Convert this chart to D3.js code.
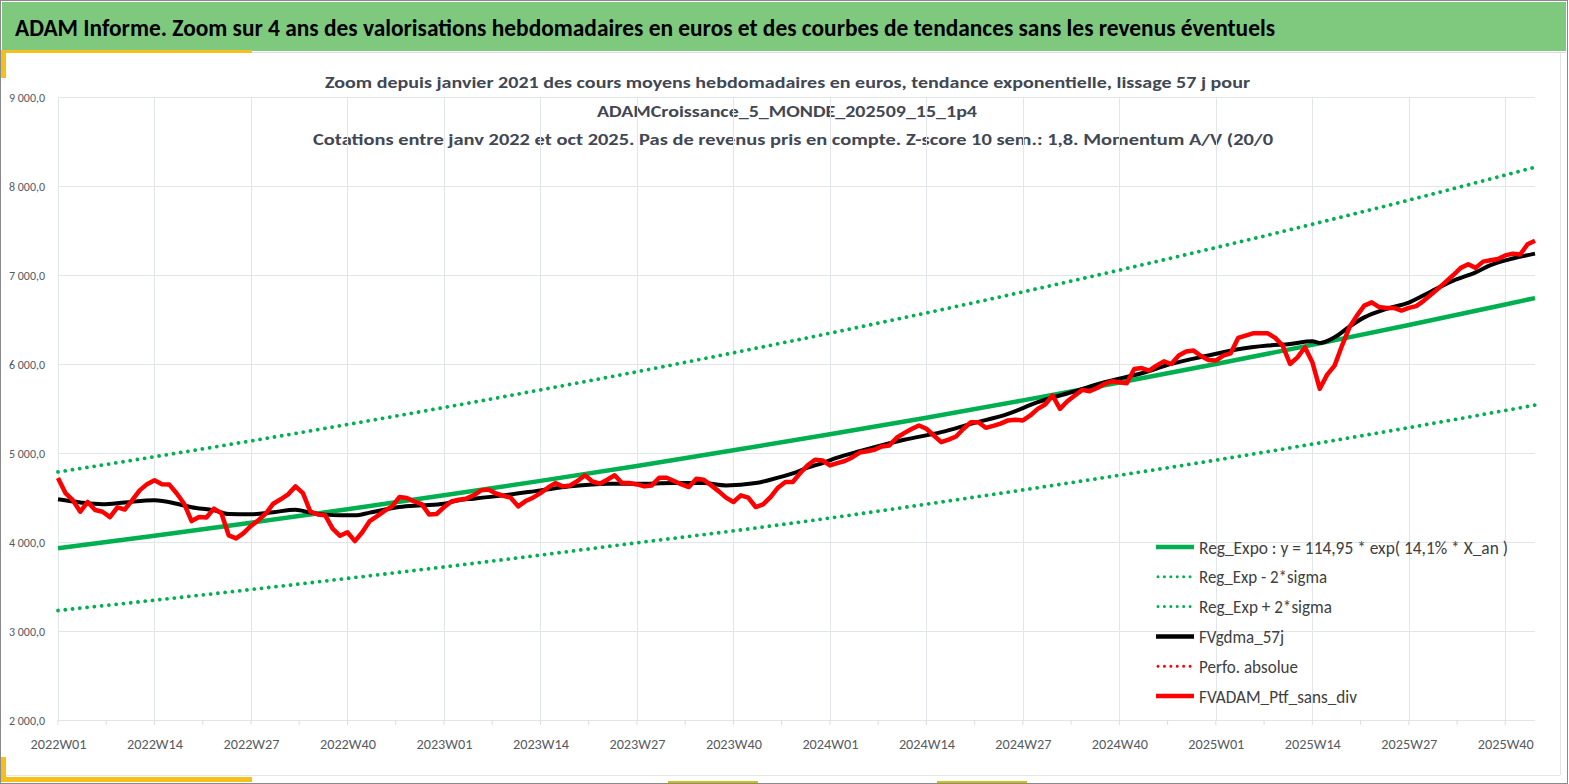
<!DOCTYPE html>
<meta charset="utf-8">
<style>
  body { margin: 0; background: #fff; }
  text { font-family: Carlito, Calibri, Lato, "Open Sans", sans-serif; }
  .grid line { stroke: #e2e5ea; stroke-width: 1px; shape-rendering: crispEdges; }
  .grid path { stroke-width: 0; }
  .ylab text, .xlab text { fill: #555a63; }
</style>
<body>
<script src="https://d3js.org/d3.v7.min.js"></script>
<div id="chart"></div>
<script>

// ---- data ----
var years = [2022, 2023, 2024, 2025];
var weeksPerYear = 52;
var nWeeks = 200; // 2022W01 .. 2025W44

var tickWeeks = ["2022W01","2022W14","2022W27","2022W40","2023W01","2023W14","2023W27","2023W40",
                 "2024W01","2024W14","2024W27","2024W40","2025W01","2025W14","2025W27","2025W40"];
var yTicks = [2000, 3000, 4000, 5000, 6000, 7000, 8000, 9000];

// regression curve and +/- 2 sigma bands, read at the label weeks and at the end
var regWeeks = tickWeeks.concat(["2025W44"]);
var regExpo  = [3930, 4071, 4217, 4368, 4525, 4687, 4855, 5030, 5210, 5397, 5591, 5792, 6000, 6215, 6438, 6669, 6741];
var regUpper = [4787, 4958, 5136, 5320, 5511, 5709, 5913, 6126, 6346, 6574, 6810, 7055, 7308, 7570, 7841, 8123, 8211];
var regLower = [3230, 3346, 3466, 3591, 3720, 3853, 3991, 4125, 4270, 4425, 4585, 4750, 4920, 5100, 5285, 5478, 5538];

// smoothed series FVgdma_57j
var gdmaWeeks = ["2022W01","2022W04","2022W07","2022W10","2022W14","2022W17","2022W19","2022W22","2022W24","2022W27",
                 "2022W30","2022W33","2022W35","2022W39","2022W41","2022W43","2022W47","2022W50",
                 "2023W01","2023W03","2023W05","2023W09","2023W14","2023W18","2023W23","2023W27","2023W32","2023W36",
                 "2023W39","2023W43","2023W45","2023W48","2023W50","2023W52",
                 "2024W02","2024W05","2024W07","2024W11","2024W16","2024W20","2024W25","2024W29","2024W34","2024W38",
                 "2024W43","2024W47","2024W52",
                 "2025W04","2025W08","2025W11","2025W14","2025W15","2025W17","2025W19","2025W21","2025W24","2025W27",
                 "2025W30","2025W33","2025W36","2025W38","2025W41","2025W44"];
var gdmaValues = [4480, 4445, 4425, 4445, 4468, 4430, 4390, 4355, 4315, 4311,
                  4335, 4363, 4330, 4300, 4300, 4330, 4393, 4412,
                  4430, 4470, 4487, 4524, 4580, 4625, 4655, 4655, 4662, 4662,
                  4636, 4662, 4700, 4770, 4835, 4887,
                  4947, 5020, 5066, 5149, 5234, 5328, 5440, 5571, 5694, 5795,
                  5896, 6001, 6095,
                  6165, 6207, 6226, 6255, 6235, 6300, 6420, 6524, 6619, 6690,
                  6815, 6936, 7029, 7110, 7185, 7240];

// weekly portfolio value FVADAM_Ptf_sans_div (one value per week)
var ptfValues = [
  4720, 4550, 4470, 4340, 4450, 4360, 4340, 4280, 4390, 4365,
  4470, 4580, 4650, 4695, 4650, 4645, 4545, 4430, 4235, 4280,
  4275, 4375, 4325, 4075, 4040, 4100, 4180, 4245, 4320, 4430,
  4480, 4535, 4625, 4550, 4340, 4310, 4300, 4150, 4070, 4110,
  4010, 4110, 4235, 4290, 4350, 4400, 4505, 4495, 4455, 4425,
  4310, 4315, 4390, 4455, 4475, 4487, 4525, 4580, 4590, 4545,
  4520, 4498, 4400, 4460, 4498, 4550, 4610, 4662, 4625, 4636,
  4685, 4750, 4680, 4655, 4700, 4750, 4662, 4662, 4647, 4625,
  4636, 4722, 4722, 4685, 4647, 4617, 4711, 4700, 4636, 4572,
  4498, 4449, 4524, 4498, 4393, 4423, 4505, 4610, 4674, 4674,
  4775, 4861, 4925, 4917, 4861, 4887, 4910, 4950, 5005, 5020,
  5037, 5074, 5085, 5171, 5223, 5270, 5309, 5272, 5197, 5122,
  5150, 5186, 5272, 5346, 5346, 5283, 5305, 5330, 5366, 5373,
  5366, 5422, 5496, 5545, 5646, 5496, 5582, 5646, 5709, 5694,
  5731, 5776, 5806, 5794, 5783, 5944, 5955, 5926, 5982, 6030,
  6000, 6095, 6140, 6151, 6090, 6046, 6039, 6095, 6121, 6293,
  6319, 6345, 6345, 6345, 6293, 6207, 6000, 6075, 6188, 6020,
  5721, 5881, 5982, 6207, 6412, 6543, 6656, 6693, 6640, 6630,
  6630, 6600, 6630, 6650, 6710, 6780, 6850, 6925, 7000, 7080,
  7120, 7080, 7150, 7165, 7180, 7220, 7240, 7230, 7345, 7385];

var legendNames = ["Reg_Expo : y = 114,95 * exp( 14,1% *  X_an )", "Reg_Exp - 2*sigma", "Reg_Exp + 2*sigma",
                   "FVgdma_57j", "Perfo. absolue", "FVADAM_Ptf_sans_div"];

var bannerTitle = "ADAM Informe. Zoom sur 4 ans des valorisations hebdomadaires en euros et des courbes de tendances sans les revenus éventuels";
var chartTitle = ["Zoom depuis janvier 2021 des cours moyens hebdomadaires  en euros, tendance exponentielle, lissage 57 j pour",
                  "ADAMCroissance_5_MONDE_202509_15_1p4",
                  "Cotations entre janv 2022 et oct 2025. Pas de revenus pris en compte. Z-score 10 sem.: 1,8. Momentum A/V (20/0"];

// week categories 2022W01 ...
var weeks = [];
years.forEach(function(yr) {
  for (var w = 1; w <= weeksPerYear; w++) weeks.push(yr + "W" + (w < 10 ? "0" + w : w));
});
weeks = weeks.slice(0, nWeeks);

// ---- layout ----
var W = 1569, H = 784;
var plot = {left: 58, right: 1535, top: 97, bottom: 720};

var svg = d3.select("#chart").append("svg")
    .attr("width", W)
    .attr("height", H);

// frame, banner and yellow accents
svg.append("rect").attr("x", 0.5).attr("y", 0.5).attr("width", W - 2).attr("height", H - 1)
   .attr("fill", "#fff").attr("stroke", "#8a8a8a");
svg.append("rect").attr("x", 2).attr("y", 2).attr("width", 1564).attr("height", 49).attr("fill", "#7ec97e");
svg.append("line").attr("x1", 250).attr("x2", 1566).attr("y1", 52.5).attr("y2", 52.5).attr("stroke", "#dcdcdc");
svg.append("line").attr("x1", 1560.5).attr("x2", 1560.5).attr("y1", 53).attr("y2", 775).attr("stroke", "#e4e4e4");
svg.append("line").attr("x1", 6).attr("x2", 1560).attr("y1", 775.5).attr("y2", 775.5).attr("stroke", "#e6e6e6");
var yellow = "#f5c01c";
svg.append("rect").attr("x", 1).attr("y", 50).attr("width", 251).attr("height", 3).attr("fill", yellow);
svg.append("rect").attr("x", 1).attr("y", 50).attr("width", 5).attr("height", 28).attr("fill", yellow);
svg.append("rect").attr("x", 1).attr("y", 777).attr("width", 251).attr("height", 5).attr("fill", yellow);
svg.append("rect").attr("x", 1).attr("y", 757).attr("width", 5).attr("height", 25).attr("fill", yellow);
svg.append("rect").attr("x", 668).attr("y", 781).attr("width", 90).attr("height", 2).attr("fill", "#c9c21a");
svg.append("rect").attr("x", 937).attr("y", 781).attr("width", 90).attr("height", 2).attr("fill", "#c9c21a");

svg.append("text")
    .attr("x", 15).attr("y", 36)
    .attr("font-size", "24px").attr("font-weight", "bold").attr("fill", "#000")
    .attr("textLength", 1260).attr("lengthAdjust", "spacingAndGlyphs")
    .text(bannerTitle);

var titleX = [325, 597, 313], titleLen = [925, 380, 960], titleY = [88, 117, 145];
chartTitle.forEach(function(t, i) {
  svg.append("text")
      .attr("x", titleX[i]).attr("y", titleY[i])
      .attr("font-size", "16.5px").attr("font-weight", "bold").attr("fill", "#414753")
      .attr("textLength", titleLen[i]).attr("lengthAdjust", "spacingAndGlyphs")
      .text(t);
});

// ---- scales ----
var x = d3.scalePoint().domain(weeks).range([plot.left, plot.right]);
var y = d3.scaleLinear().domain([2000, 9000]).range([plot.bottom, plot.top]);

var fr = d3.formatLocale({decimal: ",", thousands: " ", grouping: [3], currency: ["", " €"]});
var fmt = fr.format(",.1f");

// gridlines
svg.append("g")
    .attr("class", "grid")
    .attr("transform", "translate(" + plot.left + ",0)")
    .call(d3.axisLeft(y).tickValues(yTicks).tickSize(-(plot.right - plot.left)).tickFormat(""));
svg.append("g")
    .attr("class", "grid")
    .attr("transform", "translate(0," + plot.bottom + ")")
    .call(d3.axisBottom(x).tickValues(tickWeeks).tickSize(-(plot.bottom - plot.top)).tickFormat(""));

// small ticks between labels
var minor = d3.pairs(tickWeeks).map(function(p) { return (x(p[0]) + x(p[1])) / 2; });
svg.append("g").selectAll("line").data(minor).enter().append("line")
    .attr("x1", function(d) { return d; }).attr("x2", function(d) { return d; })
    .attr("y1", plot.bottom).attr("y2", plot.bottom + 5)
    .attr("stroke", "#d9dde3");
svg.append("g").selectAll("line").data(tickWeeks).enter().append("line")
    .attr("x1", function(d) { return x(d); }).attr("x2", function(d) { return x(d); })
    .attr("y1", plot.bottom).attr("y2", plot.bottom + 5)
    .attr("stroke", "#d9dde3");

// y labels
var gy = svg.append("g").attr("class", "ylab")
    .attr("transform", "translate(45,0)")
    .call(d3.axisLeft(y).tickValues(yTicks).tickSize(0).tickPadding(0).tickFormat(fmt));
gy.select(".domain").remove();
gy.selectAll("text").attr("font-size", "13px").attr("dy", "0.35em")
    .attr("textLength", 36).attr("lengthAdjust", "spacingAndGlyphs");

// x labels
var gx = svg.append("g").attr("class", "xlab")
    .attr("transform", "translate(0," + plot.bottom + ")")
    .call(d3.axisBottom(x).tickValues(tickWeeks).tickSize(0).tickPadding(0));
gx.select(".domain").remove();
gx.selectAll("text").attr("font-size", "15px").attr("y", 29).attr("dy", 0)
    .attr("textLength", 56).attr("lengthAdjust", "spacingAndGlyphs")
    .attr("x", -28).style("text-anchor", "start");

// ---- series ----
var green = "#00b050";
var line = d3.line()
    .x(function(d) { return x(d[0]); })
    .y(function(d) { return y(d[1]); });

function drawSeries(wk, vals, color, width, dotted, curve) {
  var pts = d3.zip(wk, vals);
  svg.append("path")
      .datum(pts)
      .attr("fill", "none")
      .attr("stroke", color)
      .attr("stroke-width", width)
      .attr("stroke-linejoin", "round")
      .attr("stroke-linecap", dotted ? "round" : "butt")
      .attr("stroke-dasharray", dotted ? "0.01 7.3" : null)
      .attr("d", line.curve(curve || d3.curveLinear));
}

drawSeries(regWeeks, regUpper, green, 3.8, true, d3.curveMonotoneX);
drawSeries(regWeeks, regLower, green, 3.8, true, d3.curveMonotoneX);
drawSeries(regWeeks, regExpo, green, 4.5, false, d3.curveMonotoneX);
drawSeries(gdmaWeeks, gdmaValues, "#000", 4, false, d3.curveMonotoneX);
drawSeries(weeks, ptfValues, "#ff0000", 4.5, false, d3.curveLinear);

// ---- legend ----
var legColors = [green, green, green, "#000", "#ff0000", "#ff0000"];
var legDotted = [false, true, true, false, true, false];
var legLen = [309, 128, 133, 85, 99, 158];
var legY = d3.scaleLinear().domain([0, 5]).range([547, 696]);

var leg = svg.append("g").selectAll("g").data(legendNames).enter().append("g")
    .attr("transform", function(d, i) { return "translate(0," + legY(i) + ")"; });
leg.append("line")
    .attr("x1", function(d, i) { return legDotted[i] ? 1158 : 1156; })
    .attr("x2", 1194)
    .attr("stroke", function(d, i) { return legColors[i]; })
    .attr("stroke-width", function(d, i) { return legDotted[i] ? 3 : 4.5; })
    .attr("stroke-linecap", function(d, i) { return legDotted[i] ? "round" : "butt"; })
    .attr("stroke-dasharray", function(d, i) { return legDotted[i] ? "0.01 6.4" : null; });
leg.append("text")
    .attr("x", 1199).attr("y", 6.5)
    .attr("font-size", "18px").attr("fill", "#404040")
    .attr("textLength", function(d, i) { return legLen[i]; })
    .attr("lengthAdjust", "spacingAndGlyphs")
    .text(function(d) { return d; });

</script>
</body>
